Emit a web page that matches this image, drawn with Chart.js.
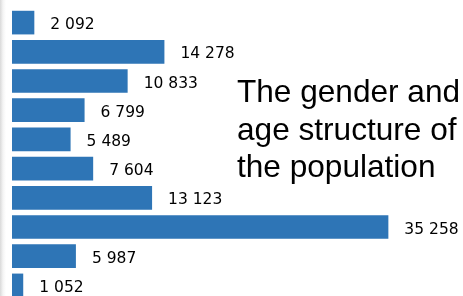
<!DOCTYPE html>
<html>
<head>
<meta charset="utf-8">
<script src="https://cdn.jsdelivr.net/npm/chart.js@4.4.1/dist/chart.umd.min.js"></script>
<style>
  html, body { margin: 0; padding: 0; width: 463px; height: 296px; overflow: hidden;
    background: linear-gradient(to right, #d9d9d9 0px, #f4f4f4 3px, #ffffff 6px); }
  #wrap { position: absolute; left: 0; top: 0; width: 463px; height: 300px; }
  #title { position: absolute; left: 237px; top: 73px; font-family: "Liberation Sans", Arial, sans-serif;
    font-size: 31.6px; line-height: 37.5px; color: #000; white-space: nowrap; }
</style>
</head>
<body>
<div id="wrap"><canvas id="popChart" width="463" height="300"></canvas></div>
<div id="title">The gender and<br>age structure of<br>the population</div>
<script>
// categories (axis hidden in the reference)
var groups = ['1', '2', '3', '4', '5', '6', '7', '8', '9', '10'];
var population = [2092, 14278, 10833, 6799, 5489, 7604, 13123, 35258, 5987, 1052];

function fmt(v) {
  return String(v).replace(/\B(?=(\d{3})+(?!\d))/g, ' ');
}

// draw the value next to each bar
var valueLabels = {
  id: 'valueLabels',
  afterDatasetsDraw: function(chart) {
    var c = chart.ctx;
    var meta = chart.getDatasetMeta(0);
    c.save();
    c.font = '15.5px "DejaVu Sans", Verdana, sans-serif';
    c.fillStyle = '#000';
    c.textBaseline = 'middle';
    c.textAlign = 'left';
    meta.data.forEach(function(bar, i) {
      c.fillText(fmt(population[i]), bar.x + 16, bar.y + 2.5);
    });
    c.restore();
  }
};

var ctx = document.getElementById('popChart');
new Chart(ctx, {
  type: 'bar',
  data: {
    labels: groups,
    datasets: [{
      data: population,
      backgroundColor: '#2e75b6',
      borderWidth: 0,
      barPercentage: 0.9,
      categoryPercentage: 0.9
    }]
  },
  options: {
    indexAxis: 'y',
    responsive: false,
    animation: false,
    devicePixelRatio: 1,
    layout: { padding: { left: 12, top: 8, right: 0, bottom: 0 } },
    scales: {
      x: { display: false, min: 0, max: 42250 },
      y: { display: false }
    },
    plugins: {
      legend: { display: false },
      tooltip: { enabled: false }
    }
  },
  plugins: [valueLabels]
});
</script>
</body>
</html>
